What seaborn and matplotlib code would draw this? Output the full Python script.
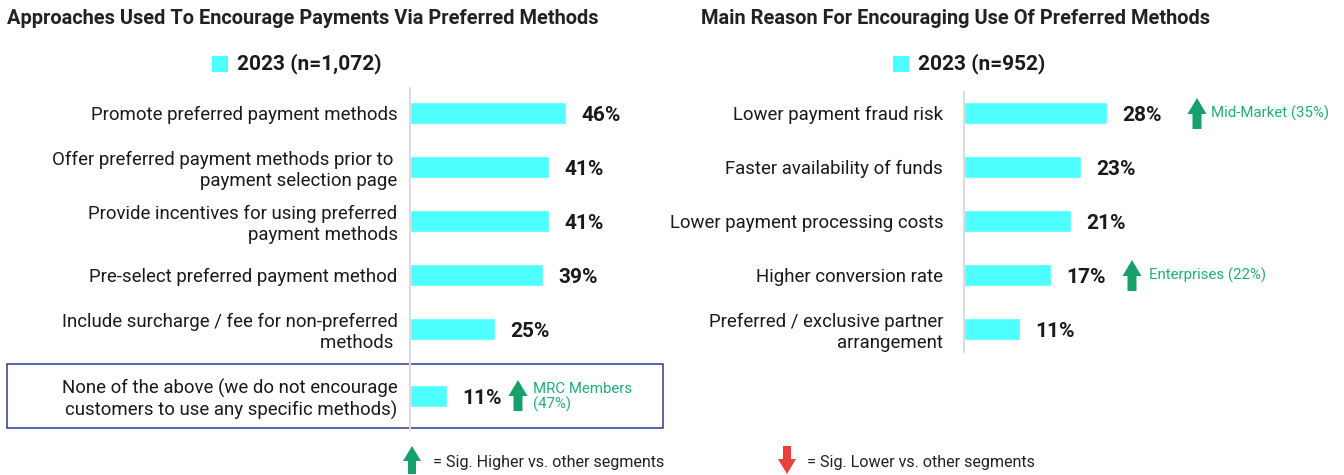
import matplotlib
matplotlib.use("Agg")
import matplotlib.pyplot as plt
from matplotlib.patches import Polygon, Rectangle
from matplotlib.lines import Line2D
import seaborn as sns
import pandas as pd

# ---------------- data ----------------
left_title = "Approaches Used To Encourage Payments Via Preferred Methods"
left_legend = "2023 (n=1,072)"
left_cats = [
    "Promote preferred payment methods",
    "Offer preferred payment methods prior to \npayment selection page",
    "Provide incentives for using preferred\npayment methods",
    "Pre-select preferred payment method",
    "Include surcharge / fee for non-preferred\nmethods ",
]
left_vals = [46, 41, 41, 39, 25]
box_cat = ["None of the above (we do not encourage\ncustomers to use any specific methods)"]
box_val = [11]
box_note = "MRC Members\n(47%)"

right_title = "Main Reason For Encouraging Use Of Preferred Methods"
right_legend = "2023 (n=952)"
right_cats = [
    "Lower payment fraud risk",
    "Faster availability of funds",
    "Lower payment processing costs",
    "Higher conversion rate",
    "Preferred / exclusive partner\narrangement",
]
right_vals = [28, 23, 21, 17, 11]
right_notes = {0: "Mid-Market (35%)", 3: "Enterprises (22%)"}

legend_up = "= Sig. Higher vs. other segments"
legend_down = "= Sig. Lower vs. other segments"

# ---------------- style ----------------
CYAN = "#4DFFFF"
GREEN = "#16A06C"
GREEN_TXT = "#21AD79"
RED = "#E8413C"
TXT = "#1a1a1a"
SPINE = "#dcdcdc"

sns.set_theme(style="white")
plt.rcParams["font.family"] = ["Roboto", "DejaVu Sans"]

W, H = 1344, 475
fig = plt.figure(figsize=(W / 100, H / 100), dpi=100)


def rect(x0, y0, x1, y1):
    """pixel box (top-left origin) -> figure fraction rect"""
    return [x0 / W, 1 - y1 / H, (x1 - x0) / W, (y1 - y0) / H]


def fx(x):
    return x / W


def fy(y):
    return 1 - y / H


def arrow(cx, ytop, ybot, color, up=True, head_w=19, head_l=16, shaft_w=9):
    if up:
        pts = [(cx, ytop), (cx + head_w / 2, ytop + head_l), (cx + shaft_w / 2, ytop + head_l),
               (cx + shaft_w / 2, ybot), (cx - shaft_w / 2, ybot), (cx - shaft_w / 2, ytop + head_l),
               (cx - head_w / 2, ytop + head_l)]
    else:
        pts = [(cx, ybot), (cx + head_w / 2, ybot - head_l), (cx + shaft_w / 2, ybot - head_l),
               (cx + shaft_w / 2, ytop), (cx - shaft_w / 2, ytop), (cx - shaft_w / 2, ybot - head_l),
               (cx - head_w / 2, ybot - head_l)]
    fig.add_artist(Polygon([(fx(x), fy(y)) for x, y in pts], closed=True,
                           transform=fig.transFigure, color=color, lw=0))


def style_ax(ax, xmax, pad):
    ax.set_xlim(0, xmax)
    ax.set_xlabel("")
    ax.set_ylabel("")
    ax.set_xticks([])
    for s in ["top", "right", "bottom", "left"]:
        ax.spines[s].set_visible(False)
    ax.tick_params(axis="y", length=0, pad=pad, labelsize=13.4, labelcolor=TXT)
    for lab in ax.get_yticklabels():
        lab.set_horizontalalignment("right")
        lab.set_linespacing(1.2)
    ax.set_facecolor("none")


def value_labels(ax, vals, cats):
    for i, v in enumerate(vals):
        ax.annotate(f"{v}%", xy=(v, i), xytext=(11, -2), textcoords="offset points",
                    ha="left", va="center", fontsize=15, fontweight="bold", color=TXT)


# ---------------- left panel ----------------
axL = fig.add_axes(rect(410, 86, 614, 356))
dfL = pd.DataFrame({"cat": left_cats, "val": left_vals})
sns.barplot(data=dfL, y="cat", x="val", orient="h", color=CYAN, width=0.42,
            saturation=1, ax=axL)
style_ax(axL, 60, 9)
value_labels(axL, left_vals, left_cats)

axB = fig.add_axes(rect(410, 369, 614, 423))
dfB = pd.DataFrame({"cat": box_cat, "val": box_val})
sns.barplot(data=dfB, y="cat", x="val", orient="h", color=CYAN, width=0.42,
            saturation=1, ax=axB)
style_ax(axB, 60, 9)
value_labels(axB, box_val, box_cat)

fig.add_artist(Line2D([fx(410), fx(410)], [fy(88), fy(430)], color=SPINE, lw=1.5,
                      transform=fig.transFigure))
fig.add_artist(Rectangle((fx(7), fy(428)), fx(663) - fx(7), fy(364) - fy(428),
                         transform=fig.transFigure, fill=False, ec="#2F3B8C", lw=1.1))
arrow(518, 380, 411, GREEN)
fig.text(fx(533), fy(397), box_note, ha="left", va="center", fontsize=10.8,
         color=GREEN_TXT, linespacing=1.05)

fig.text(fx(7), fy(19), left_title, ha="left", va="center", fontsize=14.4,
         fontweight="bold", color="#222222")
fig.add_artist(Rectangle((fx(212), fy(72)), 16 / W, 16 / H, transform=fig.transFigure,
                         color=CYAN, lw=0))
fig.text(fx(237), fy(64), left_legend, ha="left", va="center", fontsize=15,
         fontweight="bold", color=TXT)

# ---------------- right panel ----------------
axR = fig.add_axes(rect(964, 86, 1168, 356))
dfR = pd.DataFrame({"cat": right_cats, "val": right_vals})
sns.barplot(data=dfR, y="cat", x="val", orient="h", color=CYAN, width=0.42,
            saturation=1, ax=axR)
style_ax(axR, 40, 15)
value_labels(axR, right_vals, right_cats)
fig.add_artist(Line2D([fx(964), fx(964)], [fy(92), fy(352)], color=SPINE, lw=1.5,
                      transform=fig.transFigure))

# notes next to right bars (placed after value label)
note_pos = {0: (1197, 1211), 3: (1132, 1149)}
for i, note in right_notes.items():
    ycen = 113 + 54 * i
    ax_c, tx = note_pos[i]
    arrow(ax_c, ycen - 15, ycen + 16, GREEN)
    fig.text(fx(tx), fy(ycen), note, ha="left", va="center", fontsize=10.8, color=GREEN_TXT)

fig.text(fx(701), fy(19), right_title, ha="left", va="center", fontsize=14.4,
         fontweight="bold", color="#222222")
fig.add_artist(Rectangle((fx(893), fy(72)), 16 / W, 16 / H, transform=fig.transFigure,
                         color=CYAN, lw=0))
fig.text(fx(918), fy(64), right_legend, ha="left", va="center", fontsize=15,
         fontweight="bold", color=TXT)

# ---------------- bottom legend ----------------
arrow(412, 446, 474, GREEN, up=True, head_w=18, head_l=15, shaft_w=8)
fig.text(fx(433), fy(462), legend_up, ha="left", va="center", fontsize=11.6, color="#222222")
arrow(787, 446, 474, RED, up=False, head_w=18, head_l=15, shaft_w=8)
fig.text(fx(807), fy(462), legend_down, ha="left", va="center", fontsize=11.6, color="#222222")

fig.savefig("out.png", dpi=100, facecolor="white")
